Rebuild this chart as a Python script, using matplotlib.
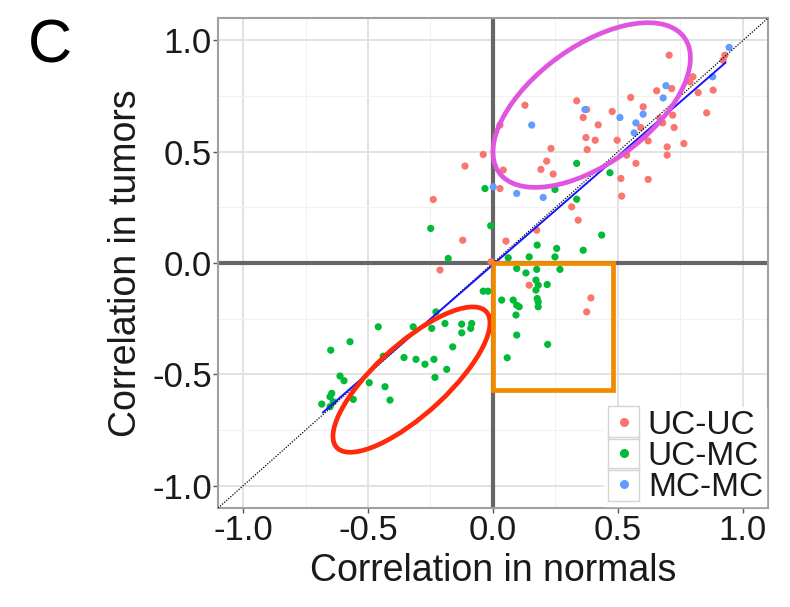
import numpy as np
import matplotlib
matplotlib.use('Agg')
import matplotlib.pyplot as plt
from matplotlib.patches import Ellipse, Rectangle
from matplotlib.lines import Line2D
from matplotlib.legend_handler import HandlerBase

plt.rcParams['font.family'] = ['Liberation Sans', 'DejaVu Sans']

# correlation pairs (normals, tumors)
uc_uc = [
    (0.705, 0.934), (0.80, 0.837), (0.788, 0.814), (0.715, 0.784), (0.655, 0.774),
    (0.821, 0.766), (0.881, 0.777), (0.551, 0.744), (0.601, 0.702), (0.375, 0.690),
    (0.477, 0.681), (0.361, 0.654), (0.855, 0.675), (0.668, 0.650), (0.719, 0.665),
    (0.679, 0.630), (0.421, 0.621), (0.591, 0.609), (0.725, 0.609), (0.372, 0.564),
    (0.409, 0.552), (0.497, 0.552), (0.621, 0.549), (0.764, 0.537), (0.697, 0.522),
    (0.377, 0.510), (0.697, 0.485), (0.535, 0.485), (0.572, 0.448), (0.512, 0.380),
    (0.621, 0.376), (0.515, 0.301), (0.921, 0.911), (0.928, 0.934),
    (0.128, 0.709), (0.335, 0.729), (0.028, 0.62), (0.232, 0.515), (-0.039, 0.488),
    (0.215, 0.458), (-0.112, 0.436), (0.192, 0.421), (0.241, 0.40), (0.041, 0.418),
    (0.028, 0.335), (-0.239, 0.286), (0.315, 0.253), (0.341, 0.193), (0.175, 0.148),
    (-0.121, 0.103), (0.052, 0.099), (-0.212, -0.031), (-0.008, 0.006), (0.145, -0.099),
    (0.392, -0.156), (0.375, -0.219),
]
uc_mc = [
    (0.468, 0.406), (-0.032, 0.335), (0.335, 0.448), (0.248, 0.331), (0.335, 0.287),
    (0.435, 0.126), (0.361, 0.058), (0.255, 0.066), (0.177, 0.081), (0.145, 0.028),
    (0.248, 0.028), (0.061, 0.024), (-0.009, 0.168), (-0.249, 0.156), (-0.179, 0.021),
    (0.095, -0.024), (0.132, -0.044), (0.175, -0.028), (0.268, -0.028),
    (0.172, -0.076), (0.181, -0.099), (0.217, -0.096), (0.172, -0.121), (0.177, -0.159),
    (0.181, -0.174), (0.181, -0.196), (0.035, -0.166), (0.081, -0.166), (0.095, -0.189),
    (0.105, -0.196), (0.092, -0.233), (0.095, -0.323), (0.219, -0.365), (0.057, -0.425),
    (-0.039, -0.126), (-0.02, -0.126), (-0.228, -0.219), (-0.459, -0.286), (-0.319, -0.286),
    (-0.245, -0.293), (-0.192, -0.271), (-0.125, -0.274), (-0.085, -0.271), (-0.089, -0.293),
    (-0.125, -0.313), (-0.572, -0.353), (-0.649, -0.391), (-0.161, -0.376), (-0.439, -0.418),
    (-0.356, -0.424), (-0.308, -0.432), (-0.272, -0.454), (-0.236, -0.432), (-0.185, -0.477),
    (-0.232, -0.513), (-0.612, -0.507), (-0.596, -0.528), (-0.495, -0.537), (-0.432, -0.555),
    (-0.412, -0.615), (-0.645, -0.585), (-0.652, -0.600), (-0.639, -0.623), (-0.685, -0.633),
    (-0.652, -0.645), (-0.559, -0.612),
]
mc_mc = [
    (0.945, 0.969), (0.692, 0.797), (0.681, 0.742), (0.508, 0.654), (0.601, 0.669),
    (0.572, 0.630), (0.565, 0.585), (0.879, 0.837), (0.368, 0.69), (0.155, 0.620),
    (0.095, 0.313), (0.201, 0.295), (0.001, 0.343),
]
groups = ['UC-UC', 'UC-MC', 'MC-MC']
colors = ['#F8766D', '#00BA38', '#619CFF']

# fitted line end points
fit_x = [-0.68, 0.93]
fit_y = [-0.67, 0.90]


class KeyBoxHandler(HandlerBase):
    # ggplot-like legend key: grey bordered square with a dot in it
    def create_artists(self, legend, orig, xd, yd, width, height, fontsize, trans):
        box = Rectangle((xd, yd - 0.2 * height), width, height * 1.4, fill=False,
                        ec='#d4d4d4', lw=1.0, transform=trans)
        dot = Line2D([xd + width / 2], [yd + height / 2], ls='none',
                     marker='o', ms=6.5, mfc=orig.get_facecolor()[0], mec='none',
                     transform=trans)
        return [box, dot]


fig = plt.figure(figsize=(7.9, 6.07), dpi=100)
ax = fig.add_axes([0.276, 0.163, 0.696, 0.807])
lim = (-1.1, 1.1)
ax.set_xlim(lim)
ax.set_ylim(lim)
ax.set_axisbelow(True)

ticks = [-1.0, -0.5, 0.0, 0.5, 1.0]
ax.set_xticks(ticks)
ax.set_yticks(ticks)
ax.set_xticks([-0.75, -0.25, 0.25, 0.75], minor=True)
ax.set_yticks([-0.75, -0.25, 0.25, 0.75], minor=True)
ax.set_xticklabels(['%.1f' % t for t in ticks])
ax.set_yticklabels(['%.1f' % t for t in ticks])
ax.grid(which='major', color='#e2e2e2', lw=1.4)
ax.grid(which='minor', color='#f1f1f1', lw=0.8)
ax.tick_params(which='major', length=3.5, width=1, color='#555555', labelsize=25,
               labelcolor='#1a1a1a', pad=1)
ax.tick_params(which='minor', length=0)
for sp in ax.spines.values():
    sp.set_color('#a0a0a0')
    sp.set_linewidth(1.5)

ax.axhline(0, color='#666666', lw=3.0, zorder=2)
ax.axvline(0, color='#666666', lw=3.0, zorder=2)

handles = []
for g, c, pts in zip(groups, colors, [uc_uc, uc_mc, mc_mc]):
    arr = np.array(pts)
    sc = ax.scatter(arr[:, 0], arr[:, 1], s=27, color=c, edgecolors='none', label=g, zorder=3)
    handles.append(sc)

ax.plot(lim, lim, color='black', lw=0.9, ls=(0, (1, 1.2)), zorder=4)
ax.plot(fit_x, fit_y, color='#1414ff', lw=1.4, zorder=5)

ax.add_patch(Ellipse((0.395, 0.71), 0.96, 0.50, angle=41.7, fill=False,
                     ec='#e055e0', lw=3.4, zorder=6))
ax.add_patch(Ellipse((-0.326, -0.523), 0.855, 0.30, angle=46.4, fill=False,
                     ec='#ff2a0a', lw=3.4, zorder=6))
ax.add_patch(Rectangle((0.0, -0.57), 0.48, 0.57, fill=False,
                       ec='#f08a00', lw=3.4, zorder=6))

leg = ax.legend(handles, groups, loc='lower right', bbox_to_anchor=(1.0, 0.0),
                fontsize=24, frameon=True, fancybox=False, edgecolor='white',
                framealpha=1, handletextpad=0.25, borderpad=0.1, labelspacing=0.0,
                borderaxespad=0.05, handlelength=0.95, handleheight=0.7,
                handler_map={h: KeyBoxHandler() for h in handles})
for t in leg.get_texts():
    t.set_color('#1a1a1a')

ax.set_xlabel('Correlation in normals', fontsize=27, color='#1a1a1a', labelpad=4)
ax.set_ylabel('Correlation in tumors', fontsize=27, color='#1a1a1a', labelpad=6)
fig.text(0.035, 0.97, 'C', fontsize=44, va='top', ha='left')

fig.savefig('out.png', dpi=100)
